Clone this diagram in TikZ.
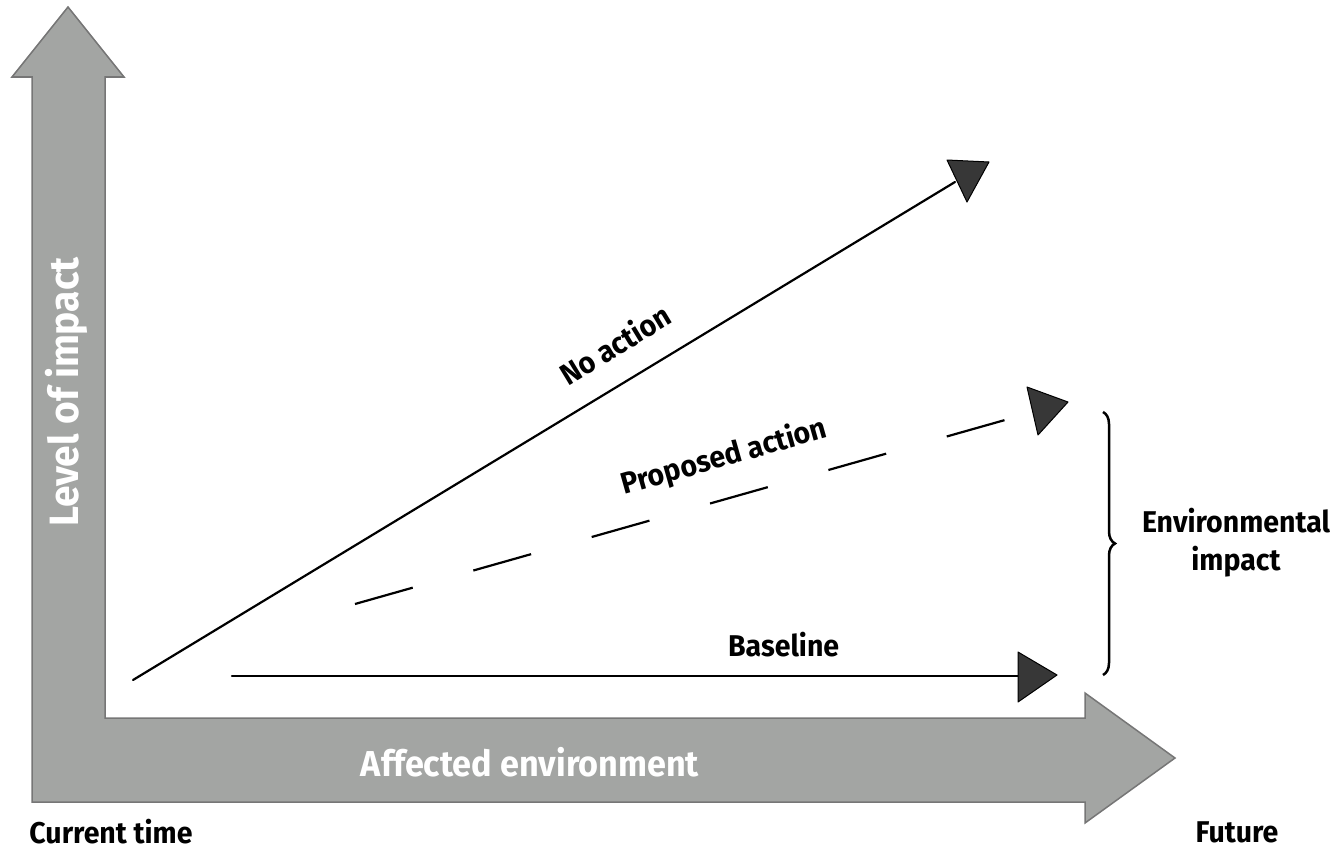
\documentclass[tikz,border=0pt]{standalone}
\usepackage{fontspec}
\setmainfont[FakeStretch=0.95]{Fira Sans}
\usepackage{xcolor}
\usepackage{tikz}
\usetikzlibrary{decorations.pathreplacing}

\definecolor{axisgray}{RGB}{163,165,163}
\definecolor{axisedge}{RGB}{118,118,118}
\definecolor{headgray}{RGB}{55,55,55}

\begin{document}
\begin{tikzpicture}[x=1pt, y=-1pt,
    lbl/.style={font=\bfseries\fontsize{30}{38}\selectfont, text=black, inner sep=0pt},
    axlbl/.style={font=\bfseries\fontsize{36}{40}\selectfont, text=white, inner sep=0pt},
    trend/.style={line width=2.2pt, line cap=round},
    head/.style={fill=headgray, draw=black, line width=1pt, line join=round}]

    \useasboundingbox (0,0) rectangle (1341,851);

    % the two axes as one grey arrow shape
    \filldraw[fill=axisgray, draw=axisedge, line width=1.5pt]
        (68,7) -- (124,77) -- (105,77) -- (105,718) -- (1085,718) -- (1085,693)
        -- (1175,758) -- (1085,823) -- (1085,802) -- (32,802) -- (32,77) -- (12,77) -- cycle;

    \node[axlbl, font=\bfseries\fontsize{41}{44}\selectfont, rotate=90] (level) at (66,392) {Level of impact};
    \node[axlbl] (affected) at (530,762) {Affected environment};
    \node[lbl] (now) at (111,832) {Current time};
    \node[lbl] (future) at (1237,832) {Future};

    % line ends
    \coordinate (noS) at (133,680);
    \coordinate (noE) at (955,182);
    \coordinate (prS) at (355,604);
    \coordinate (prE) at (1005,420);
    \coordinate (baS) at (232,676);
    \coordinate (baE) at (1020,676);

    \draw[trend] (noS) -- (noE)
        node[lbl, pos=0.61, sloped, above=24pt] (noact) {No action};
    \draw[trend, line cap=butt, dash pattern=on 60pt off 63pt] (prS) -- (prE)
        node[lbl, pos=0.585, sloped, above=24pt] (propact) {Proposed action};
    \draw[trend] (baS) -- (baE)
        node[lbl, pos=0.70, above=18pt] (base) {Baseline};

    \draw[head] (947,160) -- (989,162) -- (967,202) -- cycle;
    \draw[head] (1027,387) -- (1068,402) -- (1038,435) -- cycle;
    \draw[head] (1018,652) -- (1057,675) -- (1018,702) -- cycle;

    \draw[decorate, decoration={brace, amplitude=12pt}, line width=2.5pt] (1103,412) -- (1103,675);
    \node[lbl, align=center] (envimp) at (1236,543) {Environmental\\impact};
\end{tikzpicture}
\end{document}
